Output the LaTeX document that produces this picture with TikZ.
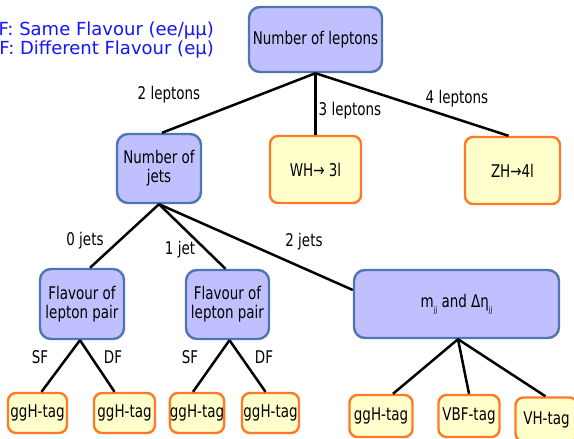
\documentclass[tikz,border=0pt]{standalone}
\usepackage{fontspec}
\setmainfont{DejaVu Sans}
\newfontfamily\condfont[FakeStretch=0.77]{DejaVu Sans}
\usetikzlibrary{calc}
\definecolor{bluefill}{RGB}{192,192,255}
\definecolor{blueline}{RGB}{78,118,176}
\definecolor{orangefill}{RGB}{255,255,204}
\definecolor{orangeline}{RGB}{255,122,38}
\definecolor{legendblue}{RGB}{20,20,255}
\tikzset{
  bluebox/.style={draw=blueline, fill=bluefill, line width=2.4pt, rounded corners=11pt,
    align=center, inner sep=0pt, font=\condfont\fontsize{17.5}{19}\selectfont},
  tagbox/.style={draw=orangeline, fill=orangefill, line width=2.4pt, rounded corners=8pt,
    align=center, inner sep=0pt, font=\condfont\fontsize{17.5}{19}\selectfont},
  conn/.style={draw=black, line width=2.5pt},
  elabel/.style={font=\condfont\fontsize{17.5}{19}\selectfont, inner sep=0pt},
  legend/.style={text=legendblue, font=\fontsize{18}{20}\selectfont, inner sep=0pt, anchor=base east}
}
\begin{document}
\begin{tikzpicture}[x=1pt,y=-1pt]
\clip (0,0) rectangle (574,439);
\fill[white] (0,0) rectangle (574,439);

% legend
\node[legend] (leg1) at (214,35) {SF: Same Flavour (ee/μμ)};
\node[legend] (leg2) at (214,54.5) {DF: Different Flavour (eμ)};

% nodes
\node[bluebox, minimum width=133pt, minimum height=65pt] (lep) at (315.5,39.5) {Number of leptons};
\node[bluebox, minimum width=84pt, minimum height=69pt] (jets) at (159,168.5) {Number of\\jets};
\node[tagbox, minimum width=91pt, minimum height=67pt] (wh) at (315.5,169.5) {WH→ 3l};
\node[tagbox, minimum width=95pt, minimum height=67pt] (zh) at (512.5,170.5) {ZH→4l};
\node[bluebox, minimum width=84pt, minimum height=70pt] (fl1) at (82,304) {Flavour of\\lepton pair};
\node[bluebox, minimum width=83pt, minimum height=69pt] (fl2) at (227.5,304.5) {Flavour of\\lepton pair};
\node[bluebox, minimum width=205pt, minimum height=68pt] (mjj) at (456.5,304)
  {m\raisebox{-5pt}{\fontsize{8}{8}\selectfont jj} and Δη\raisebox{-5pt}{\fontsize{8}{8}\selectfont jj}};

\node[tagbox, minimum width=59pt, minimum height=40pt] (g1) at (37.5,413) {ggH-tag};
\node[tagbox, minimum width=61pt, minimum height=40pt] (g2) at (124.5,413) {ggH-tag};
\node[tagbox, minimum width=52pt, minimum height=40pt] (g3) at (197,413) {ggH-tag};
\node[tagbox, minimum width=57pt, minimum height=40pt] (g4) at (270.5,413) {ggH-tag};
\node[tagbox, minimum width=63pt, minimum height=42pt] (g5) at (381,416) {ggH-tag};
\node[tagbox, minimum width=61pt, minimum height=42pt] (g6) at (469,416) {VBF-tag};
\node[tagbox, minimum width=62pt, minimum height=44pt] (g7) at (546.5,419.5) {VH-tag};

% connectors
\draw[conn] (lep.south) -- ($(jets.north)+(3,0)$);
\draw[conn] (lep.south) -- (wh.north);
\draw[conn] (lep.south) -- ($(zh.north)+(-4,0)$);
\draw[conn] (jets.south) -- ($(fl1.north)+(8,0)$);
\draw[conn] (jets.south) -- ($(fl2.north)+(-2,0)$);
\draw[conn] (jets.south) -- ($(mjj.west)+(0,-14)$);
\draw[conn] ($(fl1.south)+(-2,0)$) -- ($(g1.north)+(4,0)$);
\draw[conn] ($(fl1.south)+(-2,0)$) -- ($(g2.north)+(-10,0)$);
\draw[conn] ($(fl2.south)+(2,0)$) -- ($(g3.north)+(-4,0)$);
\draw[conn] ($(fl2.south)+(2,0)$) -- ($(g4.north)+(-5,0)$);
\draw[conn] ($(mjj.south)+(1.5,0)$) -- ($(g5.north)+(12,0)$);
\draw[conn] ($(mjj.south)+(1.5,0)$) -- (g6.north);
\draw[conn] ($(mjj.south)+(1.5,0)$) -- ($(g7.north)+(-1,0)$);

% edge labels
\node[elabel] (l2) at (169,95) {2 leptons};
\node[elabel] (l3) at (350,111) {3 leptons};
\node[elabel] (l4) at (457,99) {4 leptons};
\node[elabel] (j0) at (85,241) {0 jets};
\node[elabel] (j1) at (180,250) {1 jet};
\node[elabel] (j2) at (304,242) {2 jets};
\node[elabel] (sf1) at (40,357) {SF};
\node[elabel] (df1) at (113,357) {DF};
\node[elabel] (sf2) at (190,357) {SF};
\node[elabel] (df2) at (264,357) {DF};
\end{tikzpicture}
\end{document}
